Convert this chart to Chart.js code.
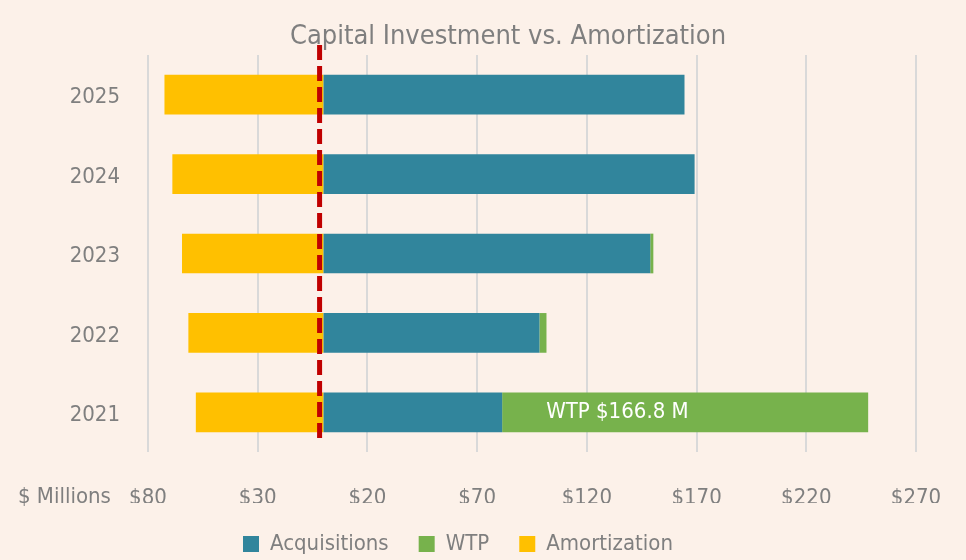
<!DOCTYPE html>
<html>
<head>
<meta charset="utf-8">
<script src="https://cdn.jsdelivr.net/npm/chart.js@4/dist/chart.umd.min.js"></script>
<style>
  html, body { margin: 0; padding: 0; background: #FCF1E9; }
  #wrap { width: 966px; height: 560px; }
</style>
</head>
<body>
<div id="wrap"><canvas id="c" width="966" height="560"></canvas></div>
<script>
const years = ['2025', '2024', '2023', '2022', '2021'];
const acquisitions = [164.5, 169.1, 148.9, 98.4, 81.4];
const wtp = [0, 0, 1.4, 3.2, 166.8];
const amortization = [-72.5, -68.9, -64.5, -61.6, -58.2];
const xTicks = [-80, -30, 20, 70, 120, 170, 220, 270];
const refLineValue = -1.8;
const titleText = 'Capital Investment vs. Amortization';
const wtpLabel = 'WTP $166.8 M';
const unitLabel = '$ Millions';

const FONT = "'Liberation Sans Narrow', 'DejaVu Sans Condensed', 'Open Sans', sans-serif";
const GREY = '#7F7F7F';
const PAD_R = 50;

const legendSize = {
  id: 'legendSize',
  beforeInit(chart) {
    const lg = chart.legend;
    if (!lg) return;
    const orig = lg.fit;
    lg.fit = function () { orig.call(this); this.height = 53; };
  }
};

const extras = {
  id: 'extras',
  afterDraw(chart) {
    const ctx = chart.ctx;
    ctx.save();
    ctx.fillStyle = GREY;
    ctx.font = '27px ' + FONT;
    ctx.textAlign = 'center';
    ctx.textBaseline = 'middle';
    ctx.fillText(titleText, 508, 37);
    ctx.restore();
  },
  afterDatasetsDraw(chart) {
    const ctx = chart.ctx;
    const xs = chart.scales.x;
    const px = xs.getPixelForValue(refLineValue);
    ctx.save();
    ctx.strokeStyle = '#C00000';
    ctx.lineWidth = 5;
    ctx.setLineDash([15, 6]);
    ctx.beginPath();
    ctx.moveTo(px, chart.chartArea.top - 10);
    ctx.lineTo(px, chart.chartArea.bottom - 11);
    ctx.stroke();
    ctx.restore();

    const meta = chart.getDatasetMeta(1);
    const idx = wtp.indexOf(Math.max(...wtp));
    const bar = meta.data[idx];
    ctx.save();
    ctx.fillStyle = '#FFFFFF';
    ctx.font = '22px ' + FONT;
    ctx.textAlign = 'left';
    ctx.textBaseline = 'middle';
    ctx.fillText(wtpLabel, bar.base + 44, bar.y);
    ctx.restore();

    ctx.save();
    ctx.fillStyle = GREY;
    ctx.font = '22px ' + FONT;
    ctx.textAlign = 'left';
    ctx.textBaseline = 'middle';
    ctx.fillText(unitLabel, 18, chart.chartArea.bottom + 45);
    ctx.restore();
  }
};

new Chart(document.getElementById('c'), {
  type: 'bar',
  data: {
    labels: years,
    datasets: [
      { label: 'Acquisitions', data: acquisitions, backgroundColor: '#31859C' },
      { label: 'WTP', data: wtp, backgroundColor: '#77B24C' },
      { label: 'Amortization', data: amortization, backgroundColor: '#FFC000' }
    ]
  },
  options: {
    indexAxis: 'y',
    responsive: false,
    animation: false,
    layout: { padding: { left: 0, right: PAD_R, top: 55, bottom: 4 } },
    datasets: { bar: { barPercentage: 0.5, categoryPercentage: 1.0 } },
    scales: {
      x: {
        stacked: true,
        min: -80, max: 270,
        afterBuildTicks(scale) { scale.ticks = xTicks.map(v => ({ value: v })); },
        afterFit(scale) { scale.height = 51; scale.paddingRight = 0; scale.paddingLeft = 0; },
        ticks: {
          color: GREY,
          font: { family: FONT, size: 22 },
          padding: 33,
          callback: v => '$' + Math.abs(v)
        },
        grid: { color: '#D9D9D9', lineWidth: 2, drawTicks: false },
        border: { display: false }
      },
      y: {
        stacked: true,
        afterFit(scale) { scale.width = 148; },
        ticks: { color: GREY, font: { family: FONT, size: 22 }, padding: 20, labelOffset: 3 },
        grid: { display: false },
        border: { display: false }
      }
    },
    plugins: {
      title: { display: false },
      legend: {
        position: 'bottom',
        labels: {
          color: GREY,
          font: { family: FONT, size: 22 },
          boxWidth: 16, boxHeight: 16,
          padding: 30
        }
      },
      tooltip: { enabled: false }
    }
  },
  plugins: [legendSize, extras]
});
</script>
</body>
</html>
